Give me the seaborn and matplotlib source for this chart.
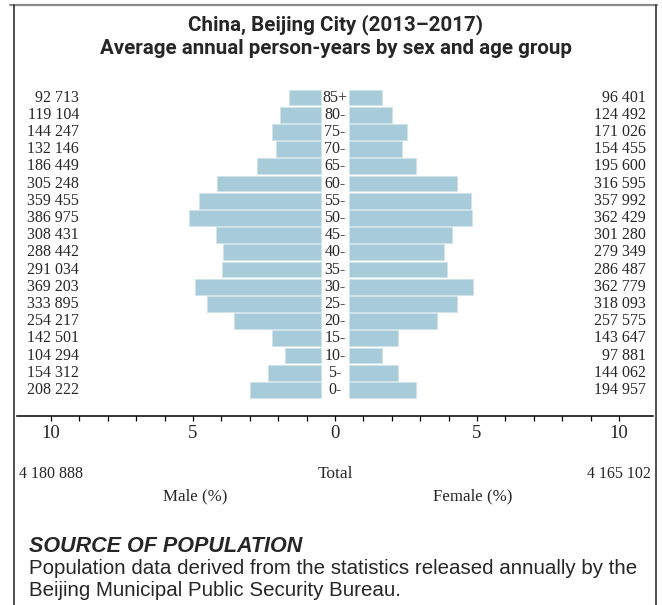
import matplotlib
matplotlib.use("Agg")
import matplotlib.pyplot as plt
from matplotlib import font_manager
from matplotlib.lines import Line2D
import numpy as np
import pandas as pd
import seaborn as sns

# ---- data ----
age_groups = ["85+", "80-", "75-", "70-", "65-", "60-", "55-", "50-", "45-",
              "40-", "35-", "30-", "25-", "20-", "15-", "10-", "5-", "0-"]
male_counts = [92713, 119104, 144247, 132146, 186449, 305248, 359455, 386975, 308431,
               288442, 291034, 369203, 333895, 254217, 142501, 104294, 154312, 208222]
female_counts = [96401, 124492, 171026, 154455, 195600, 316595, 357992, 362429, 301280,
                 279349, 286487, 362779, 318093, 257575, 143647, 97881, 144062, 194957]
male_total = 4180888
female_total = 4165102
x_ticks = list(range(-10, 11))
x_tick_labels = ["10" if t == -10 else "5" if t == -5 else "0" if t == 0 else
                 "5" if t == 5 else "10" if t == 10 else "" for t in x_ticks]

title_1 = "China, Beijing City (2013\u20132017)"
title_2 = "Average annual person-years by sex and age group"
source_head = "SOURCE OF POPULATION"
source_lines = ["Population data derived from the statistics released annually by the",
                "Beijing Municipal Public Security Bureau."]

# ---- derived table ----
grand_total = male_total + female_total
df = pd.DataFrame({
    "age": age_groups,
    "male_pct": [-m / grand_total * 100 for m in male_counts],
    "female_pct": [f / grand_total * 100 for f in female_counts],
})

W, H = 662, 605
sns.set_style("white")
installed = {f.name for f in font_manager.fontManager.ttflist}
SERIF = "Liberation Serif"
SANS = "Liberation Sans"
TITLE_FONT = "Roboto" if "Roboto" in installed else SANS
plt.rcParams["font.family"] = [SERIF, "DejaVu Serif"]

fig = plt.figure(figsize=(W / 100, H / 100), dpi=100)
fig.patch.set_facecolor("white")

def fx(px):
    return px / W

def fy(py):
    return 1 - py / H

ax_left, ax_right = 17, 653
ax_top, ax_bottom = 80.3, 415.7
ax = fig.add_axes([fx(ax_left), fy(ax_bottom), (ax_right - ax_left) / W,
                   (ax_bottom - ax_top) / H])
ax.set_facecolor("none")

BAR = "#a7cbd8"
EDGE = "#cfe3ea"
sns.barplot(data=df, y="age", x="male_pct", order=age_groups, orient="h",
            color=BAR, width=0.93, left=-0.5, edgecolor=EDGE, linewidth=0.6,
            saturation=1, ax=ax)
sns.barplot(data=df, y="age", x="female_pct", order=age_groups, orient="h",
            color=BAR, width=0.93, left=0.5, edgecolor=EDGE, linewidth=0.6,
            saturation=1, ax=ax)

ax.set_xlim(-11.2, 11.2)
ax.set_ylim(18.5, -1.0)
ax.set_xlabel("")
ax.set_ylabel("")
ax.set_yticks([])
for s in ["left", "right", "top"]:
    ax.spines[s].set_visible(False)
ax.spines["bottom"].set_color("black")
ax.spines["bottom"].set_linewidth(1.1)
ax.set_xticks(x_ticks)
ax.set_xticklabels(x_tick_labels)
ax.tick_params(axis="x", direction="out", length=3.5, width=0.9, color="black",
               pad=3.5, labelsize=13.5, bottom=True)
for lab in ax.get_xticklabels():
    lab.set_family(SERIF)

# row labels
for i, (a, m, f) in enumerate(zip(age_groups, male_counts, female_counts)):
    ax.text(0, i, a, ha="center", va="center", fontsize=11.5, family=SERIF)
    ax.text(-9.02, i, f"{m:,}".replace(",", " "), ha="right", va="center",
            fontsize=11.5, family=SERIF)
    ax.text(10.95, i, f"{f:,}".replace(",", " "), ha="right", va="center",
            fontsize=11.5, family=SERIF)

# totals and axis titles
fig.text(fx(19), fy(474), f"{male_total:,}".replace(",", " "), ha="left", va="center",
         fontsize=11.5, family=SERIF)
fig.text(fx(335), fy(474), "Total", ha="center", va="center", fontsize=12.5, family=SERIF)
fig.text(fx(651), fy(474), f"{female_total:,}".replace(",", " "), ha="right", va="center",
         fontsize=11.5, family=SERIF)
fig.text(fx(195), fy(496), "Male (%)", ha="center", va="center", fontsize=12.2, family=SERIF)
fig.text(fx(472.5), fy(496), "Female (%)", ha="center", va="center", fontsize=12.2, family=SERIF)

# title
fig.text(fx(336), fy(25), title_1, ha="center", va="center", fontsize=14.8,
         fontweight="bold", family=TITLE_FONT)
fig.text(fx(336), fy(48), title_2, ha="center", va="center", fontsize=14.8,
         fontweight="bold", family=TITLE_FONT)

# source
fig.text(fx(29), fy(546), source_head, ha="left", va="center", fontsize=15.5,
         fontweight="bold", fontstyle="italic", family=SANS)
fig.text(fx(29), fy(569), source_lines[0], ha="left", va="center", fontsize=14.8, family=SANS)
fig.text(fx(29), fy(590), source_lines[1], ha="left", va="center", fontsize=14.8, family=SANS)

# frame
fig.add_artist(Line2D([fx(10), fx(657)], [fy(5), fy(5)], color="#8a8a8a", lw=1.6))
fig.add_artist(Line2D([fx(13.5), fx(13.5)], [fy(5), fy(605)], color="#222222", lw=1.1))
fig.add_artist(Line2D([fx(655.5), fx(655.5)], [fy(5), fy(605)], color="#222222", lw=1.1))

fig.savefig("out.png", dpi=100, facecolor="white")
